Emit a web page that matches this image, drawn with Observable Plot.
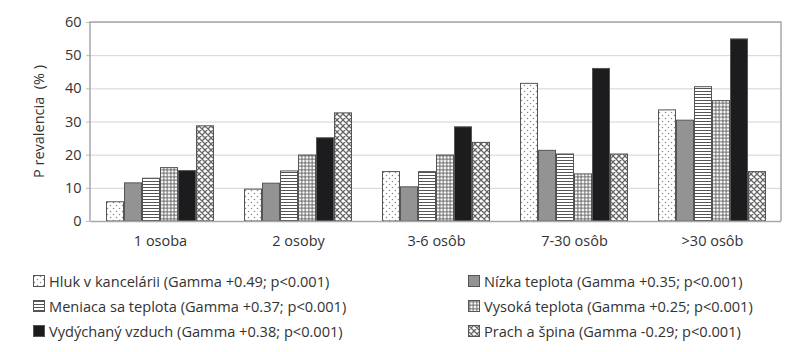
<!DOCTYPE html>
<html>
<head>
<meta charset="utf-8">
<script src="https://cdn.jsdelivr.net/npm/d3@7"></script>
<script src="https://cdn.jsdelivr.net/npm/@observablehq/plot@0.6"></script>
<style>
  body { margin: 0; background: #fff; font-family: "Open Sans", sans-serif; }
  #legend { position: relative; width: 800px; height: 92px; }
  .item { position: absolute; display: flex; align-items: center; font-size: 14.6px; color: #333; white-space: nowrap; }
  .item svg { margin-right: 4px; }
</style>
</head>
<body>
<div id="chart"></div>
<div id="legend"></div>
<script>
const groups = ["1 osoba", "2 osoby", "3-6 osôb", "7-30 osôb", ">30 osôb"];
const series = ["Hluk v kancelárii", "Nízka teplota", "Meniaca sa teplota", "Vysoká teplota", "Vydýchaný vzduch", "Prach a špina"];
const legendLabels = [
  "Hluk v kancelárii (Gamma +0.49; p<0.001)",
  "Nízka teplota (Gamma +0.35; p<0.001)",
  "Meniaca sa teplota (Gamma +0.37; p<0.001)",
  "Vysoká teplota (Gamma +0.25; p<0.001)",
  "Vydýchaný vzduch (Gamma +0.38; p<0.001)",
  "Prach a špina (Gamma -0.29; p<0.001)"
];
const hluk      = [5.8, 9.6, 14.9, 41.5, 33.5];
const nizka     = [11.5, 11.4, 10.3, 21.3, 30.4];
const meniaca   = [12.9, 15.1, 14.9, 20.2, 40.5];
const vysoka    = [16.1, 19.9, 19.9, 14.2, 36.3];
const vydychany = [15.2, 25.1, 28.4, 46.0, 54.9];
const prach     = [28.7, 32.6, 23.7, 20.2, 14.9];
const yTicks = [0, 10, 20, 30, 40, 50, 60];
const fills = ["url(#p-dots)", "#939393", "url(#p-hlines)", "url(#p-grid)", "#1c1c1e", "url(#p-cross)"];

const valueLists = [hluk, nizka, meniaca, vysoka, vydychany, prach];
const data = [];
groups.forEach((g, gi) => series.forEach((s, si) => data.push({group: g, series: s, value: valueLists[si][gi]})));

const chart = Plot.plot({
  width: 800,
  height: 260,
  marginTop: 22,
  marginBottom: 39,
  marginLeft: 90,
  marginRight: 19,
  style: {fontFamily: "Open Sans, sans-serif", fontSize: "14.5px", color: "#333", background: "#fff"},
  fx: {domain: groups, padding: 0, label: null, axis: "bottom", tickSize: 0, tickPadding: 14},
  x: {domain: series, paddingInner: 0, paddingOuter: 0.72, axis: null},
  y: {domain: [0, 60], ticks: yTicks, tickSize: 5, tickPadding: 5, label: null},
  color: {domain: series, range: fills},
  facet: {data: data, x: "group"},
  marks: [
    Plot.ruleY(yTicks.slice(1), {stroke: "#d4d4d4", strokeWidth: 1}),
    Plot.barY(data, {x: "series", y: "value", fill: "series", stroke: "#555", strokeWidth: 1, insetLeft: 0.5, insetRight: 0.5}),
    Plot.ruleY([0], {stroke: "#a8a8a8", strokeWidth: 1.5})
  ]
});

// pattern definitions
d3.select(chart).insert("defs", ":first-child").html(`
  <pattern id="p-dots" patternUnits="userSpaceOnUse" width="6" height="6">
    <rect width="6" height="6" fill="#fff"/>
    <circle cx="1.5" cy="1.5" r="0.75" fill="#888"/>
    <circle cx="4.5" cy="4.5" r="0.75" fill="#888"/>
  </pattern>
  <pattern id="p-hlines" patternUnits="userSpaceOnUse" width="4" height="3">
    <rect width="4" height="3" fill="#fff"/>
    <line x1="0" y1="1.5" x2="4" y2="1.5" stroke="#555" stroke-width="1"/>
  </pattern>
  <pattern id="p-grid" patternUnits="userSpaceOnUse" width="3.5" height="3.5">
    <rect width="3.5" height="3.5" fill="#fff"/>
    <line x1="0" y1="1.75" x2="3.5" y2="1.75" stroke="#555" stroke-width="0.9"/>
    <line x1="1.75" y1="0" x2="1.75" y2="3.5" stroke="#555" stroke-width="0.9"/>
  </pattern>
  <pattern id="p-cross" patternUnits="userSpaceOnUse" width="6" height="6">
    <rect width="6" height="6" fill="#fff"/>
    <path d="M0,0L6,6M6,0L0,6M-1,5L1,7M5,-1L7,1" stroke="#666" stroke-width="1.3" fill="none"/>
    <circle cx="3" cy="0" r="1" fill="#fff"/>
    <circle cx="0" cy="3" r="1" fill="#fff"/>
    <circle cx="6" cy="3" r="1" fill="#fff"/>
    <circle cx="3" cy="6" r="1" fill="#fff"/>
  </pattern>
`);

// plot frame and y-axis title, placed from the scales
const ys = chart.scale("y");
const fxs = chart.scale("fx");
const x0 = fxs.range[0], x1 = fxs.range[1];
const yTop = ys.apply(60), yBot = ys.apply(0);
const sel = d3.select(chart);
sel.append("path")
  .attr("d", `M${x0},${yBot}V${yTop}H${x1}V${yBot}`)
  .attr("fill", "none").attr("stroke", "#a8a8a8").attr("stroke-width", 1.5);
sel.append("text")
  .attr("transform", `translate(${x0 - 50},${(yTop + yBot) / 2}) rotate(-90)`)
  .attr("text-anchor", "middle").attr("dominant-baseline", "middle")
  .attr("fill", "#333").style("font-size", "14.5px").style("white-space", "pre")
  .text("P revalencia  (% )");
sel.selectAll("g[aria-label='y-axis tick'] path, g[aria-label='y-axis'] line").attr("stroke", "#bbb");

document.getElementById("chart").append(chart);

// legend
const legend = document.getElementById("legend");
const pos = [[33, 21], [468, 21], [33, 46], [468, 46], [33, 71], [468, 71]];
legendLabels.forEach((label, i) => {
  const div = document.createElement("div");
  div.className = "item";
  div.style.left = pos[i][0] + "px";
  div.style.top = (pos[i][1] - 10) + "px";
  div.style.height = "20px";
  div.innerHTML = `<svg width="12" height="12"><rect x="0.5" y="0.5" width="11" height="11" fill="${fills[i]}" stroke="#555"/></svg><span>${label.replace(/</g, "&lt;")}</span>`;
  legend.append(div);
});
</script>
</body>
</html>
